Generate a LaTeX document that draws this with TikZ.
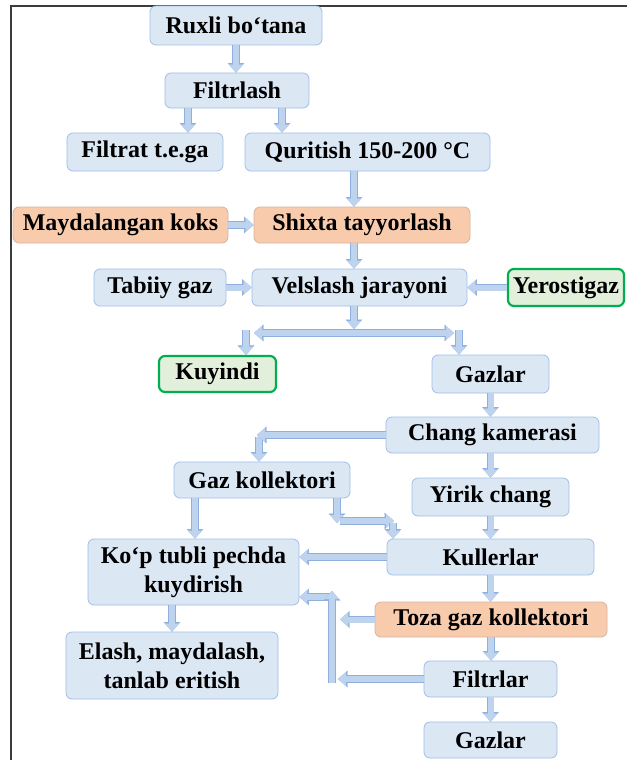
\documentclass[tikz,border=0pt]{standalone}
\usepackage{fontspec}
\setmainfont{Liberation Serif}
\usetikzlibrary{arrows.meta,calc}

\tikzset{
  tipin/.tip={Triangle[width=14pt,length=8pt,line width=0.1pt]},
  tipout/.tip={Triangle[width=16.5pt,length=9.5pt,line width=0.1pt]}
}

\begin{document}
\begin{tikzpicture}[x=1pt,y=-1pt,
  box/.style={draw=boxLine,fill=boxFill,rounded corners=6pt,line width=0.8pt,inner sep=1pt,align=center,font=\fontsize{24}{29}\selectfont\bfseries},
  orbox/.style={box,draw=orLine,fill=orFill},
  grbox/.style={box,draw=grLine,fill=grFill,line width=2.2pt},
  sz/.style 2 args={minimum width=#1pt,minimum height=#2pt},
  blk/.style={draw=arFill,line width=6pt,-tipin,preaction={draw=arLine,line width=7.6pt,-tipout}},
  blkboth/.style={draw=arFill,line width=6pt,tipin-tipin,preaction={draw=arLine,line width=7.6pt,tipout-tipout}}
]
\definecolor{boxFill}{RGB}{220,231,244}
\definecolor{boxLine}{RGB}{160,190,230}
\definecolor{orFill}{RGB}{248,203,173}
\definecolor{orLine}{RGB}{214,178,160}
\definecolor{grFill}{RGB}{226,239,218}
\definecolor{grLine}{RGB}{0,176,80}
\definecolor{arFill}{RGB}{189,211,238}
\definecolor{arLine}{RGB}{143,176,222}
\definecolor{frameLine}{RGB}{60,60,60}
\useasboundingbox (0,0) rectangle (627,760);
\draw[frameLine,line width=1.4pt] (627,6) -- (11,6) -- (11,760);

% boxes
\node[box,sz={172}{39}] (ruxli) at (236,25.5) {Ruxli bo‘tana};
\node[box,sz={144}{35}] (filtr) at (237,90.5) {Filtrlash};
\node[box,sz={156}{38}] (filtrat) at (145,152) {Filtrat t.e.ga};
\node[box,sz={245}{38}] (quritish) at (367.5,152) {Quritish 150-200 °C};
\node[orbox,sz={215}{36}] (maydal) at (120.5,225) {Maydalangan koks};
\node[orbox,sz={216}{36}] (shixta) at (362,225) {Shixta tayyorlash};
\node[box,sz={132}{37}] (tabiiy) at (160,287.5) {Tabiiy gaz};
\node[box,sz={215}{37}] (vels) at (359.5,287.5) {Velslash jarayoni};
\node[grbox,sz={116}{37}] (yer) at (566,287.5) {Yerostigaz};
\node[grbox,sz={117}{36}] (kuyindi) at (217.5,374) {Kuyindi};
\node[box,sz={117}{38}] (gazlar1) at (490.5,374) {Gazlar};
\node[box,sz={213}{36}] (chang) at (492.5,435) {Chang kamerasi};
\node[box,sz={176}{36}] (gazkol) at (262,480) {Gaz kollektori};
\node[box,sz={157}{38}] (yirik) at (490.5,497) {Yirik chang};
\node[box,sz={207}{36}] (kuller) at (490.5,557) {Kullerlar};
\node[box,sz={211}{66}] (kop) at (193.5,572) {Ko‘p tubli pechda\\kuydirish};
\node[orbox,sz={232}{35}] (toza) at (491,619.5) {Toza gaz kollektori};
\node[box,sz={133}{36}] (filtrlar) at (490.5,679) {Filtrlar};
\node[box,sz={212}{67}] (elash) at (172,665.5) {Elash, maydalash,\\tanlab eritish};
\node[box,sz={133}{36}] (gazlar2) at (490.5,740) {Gazlar};

% bends
\coordinate (spl) at (354,333);
\coordinate (barL) at (254,333);
\coordinate (barR) at (454,333);
\coordinate (dnL) at (246,330);
\coordinate (dnR) at (459,330);
\coordinate (ck) at (257,435);
\coordinate (gk1) at (337,521);
\coordinate (gk2) at (394,521);
\coordinate (vbB) at (332,683);
\coordinate (vbT) at (332,591);
\coordinate (vbL) at (332,597);

% arrows
\draw[blk] (ruxli.south) -- (ruxli.south |- filtr.north);
\draw[blk] ($(filtr.south)+(-49,0)$) -- ($(filtr.south |- filtrat.north)+(-49,0)$);
\draw[blk] ($(filtr.south)+(45,0)$) -- ($(filtr.south |- quritish.north)+(45,0)$);
\draw[blk] ($(quritish.south)+(-13.5,0)$) -- ($(quritish.south |- shixta.north)+(-13.5,0)$);
\draw[blk] (maydal.east) -- (shixta.west);
\draw[blk] ($(shixta.south)+(-8,0)$) -- ($(shixta.south |- vels.north)+(-8,0)$);
\draw[blk] (tabiiy.east) -- (vels.west);
\draw[blk] (yer.west) -- (vels.east);
\draw[blk] ($(vels.south)+(-5.5,0)$) -- ($(spl)+(0,-4)$);
\draw[blkboth] (barL) -- (barR);
\draw[blk] (dnL) -- (dnL |- kuyindi.north);
\draw[blk] (dnR) -- (dnR |- gazlar1.north);
\draw[blk] (gazlar1.south) -- (gazlar1.south |- chang.north);
\draw[blk] ($(ck)+(2,2)$) -- ($(ck |- gazkol.north)+(2,0)$);
\draw[blk] (chang.west) -- (ck);
\draw[blk] (yirik.north |- chang.south) -- (yirik.north);
\draw[blk] ($(gazkol.south)+(-67,0)$) -- ($(gazkol.south |- kop.north)+(-67,0)$);
\draw[blk] (gk1 |- gazkol.south) -- ($(gk1)+(0,2)$);
\draw[blk] ($(gk1)+(3,0)$) -- (gk2);
\draw[blk] ($(gk2)+(-1,2)$) -- ($(gk2 |- kuller.north)+(-1,0)$);
\draw[blk] (yirik.south) -- (yirik.south |- kuller.north);
\draw[blk] (kuller.west) -- (kuller.west -| kop.east);
\draw[blk] (kuller.south) -- (kuller.south |- toza.north);
\draw[blk] (toza.west) -- ($(toza.west -| vbT)+(8,0)$);
\draw[blk] (filtrlar.west) -- ($(filtrlar.west -| vbT)+(6,0)$);
\draw[blk] (vbL) -- (vbL -| kop.east);
\draw[blk] (vbB) -- (vbT);
\draw[blk] (toza.south) -- (toza.south |- filtrlar.north);
\draw[blk] (filtrlar.south) -- (gazlar2.north);
\draw[blk] (elash.north |- kop.south) -- (elash.north);
\end{tikzpicture}
\end{document}
